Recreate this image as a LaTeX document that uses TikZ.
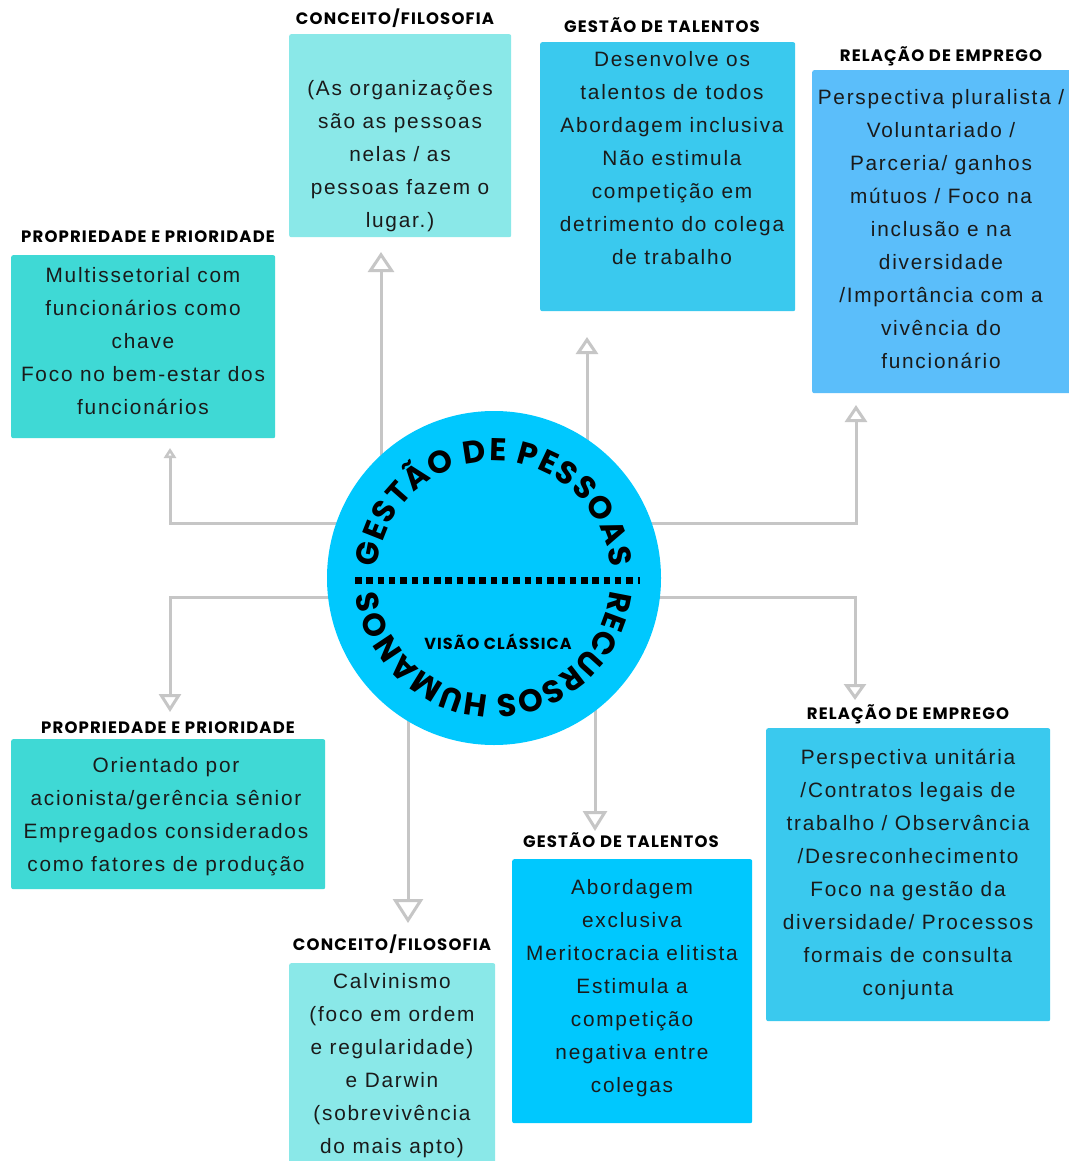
\documentclass[tikz,border=0pt]{standalone}
\usepackage{fontspec}
\setmainfont{Liberation Sans}
\newfontfamily\bodyfont{Liberation Sans}[LetterSpace=8.5]
\newfontfamily\headfont{Poppins}[LetterSpace=7]
\newfontfamily\circfont{Poppins}
\usetikzlibrary{arrows.meta,decorations.text,backgrounds}
\definecolor{cfil}{HTML}{8AE8E8}
\definecolor{prop}{HTML}{3FD9D5}
\definecolor{gest}{HTML}{3AC9EE}
\definecolor{relt}{HTML}{5BBEFA}
\definecolor{vivid}{HTML}{00C8FE}
\definecolor{arrowc}{HTML}{C6C6C6}
\definecolor{textc}{HTML}{1A1A1A}
\begin{document}
\begin{tikzpicture}[x=1pt,y=1pt,
  box/.style={rectangle, rounded corners=2pt, inner sep=0pt, anchor=north west},
  txt/.style={anchor=north, inner sep=0pt, align=center, text=textc, font=\bodyfont\fontsize{20.8}{33}\selectfont},
  head/.style={anchor=base, inner sep=0pt, text=black, font=\headfont\bfseries\fontsize{16.5}{16.5}\selectfont},
  conn/.style={draw=arrowc, line width=3pt},
  hub/.style={circle, fill=vivid, minimum size=334pt, inner sep=0pt}]
\useasboundingbox (0,0) rectangle (1068,-1161);
% hub
\coordinate (hubc) at (494,-578);
\node[hub] (hub) at (hubc) {};
\draw[line width=7pt, dash pattern=on 6.5pt off 4.8pt] (355,-580) -- (640,-580);
\path[decorate, decoration={text along path, text align={fit to path},
  text={|\circfont\bfseries\fontsize{31.5}{31.5}\selectfont|GESTÃO DE PESSOAS}}]
  (hubc) ++(175:117) arc[start angle=175, end angle=5, radius=117];
\path[decorate, decoration={text along path, text align={fit to path},
  text={|\circfont\bfseries\fontsize{31.5}{31.5}\selectfont|RECURSOS HUMANOS}}]
  (hubc) ++(-6:117) arc[start angle=-6, end angle=-174, radius=117];
\node[head, font=\headfont\bfseries\fontsize{16}{16}\selectfont] (visao) at (498,-649) {VISÃO CLÁSSICA};
% boxes
\node[box, fill=cfil, minimum width=222pt, minimum height=203pt] (b1) at (289,-34) {};
\node[box, fill=gest, minimum width=255pt, minimum height=269pt] (b2) at (540,-42) {};
\node[box, fill=relt, minimum width=260pt, minimum height=323pt] (b3) at (812,-70) {};
\node[box, fill=prop, minimum width=264pt, minimum height=183pt] (b4) at (11,-255) {};
\node[box, fill=prop, minimum width=314pt, minimum height=150pt] (b5) at (11,-739) {};
\node[box, fill=cfil, minimum width=206pt, minimum height=210pt] (b6) at (289,-963) {};
\node[box, fill=vivid, minimum width=240pt, minimum height=264pt] (b7) at (512,-859) {};
\node[box, fill=gest, minimum width=284pt, minimum height=293pt] (b8) at (766,-728) {};
% headings
\node[head] (h1) at (395,-24.5) {CONCEITO/FILOSOFIA};
\node[head] (h2) at (662,-32.5) {GESTÃO DE TALENTOS};
\node[head] (h3) at (941,-61.5) {RELAÇÃO DE EMPREGO};
\node[head] (h4) at (148,-242.5) {PROPRIEDADE E PRIORIDADE};
\node[head] (h5) at (168,-733.5) {PROPRIEDADE E PRIORIDADE};
\node[head] (h6) at (392,-950.5) {CONCEITO/FILOSOFIA};
\node[head] (h7) at (621,-847.5) {GESTÃO DE TALENTOS};
\node[head] (h8) at (908,-719.5) {RELAÇÃO DE EMPREGO};
% texts
\node[txt] (t1) at (400,-72.5) {\strut(As organizações\\são as pessoas\\nelas / as\\pessoas fazem o\\lugar.)};
\node[txt] (t2) at (672,-43.5) {\strut Desenvolve os\\talentos de todos\\Abordagem inclusiva\\Não estimula\\competição em\\detrimento do colega\\de trabalho};
\node[txt] (t3) at (941,-81.5) {\strut Perspectiva pluralista /\\Voluntariado /\\Parceria/ ganhos\\mútuos / Foco na\\inclusão e na\\diversidade\\/Importância com a\\vivência do\\funcionário};
\node[txt] (t4) at (143,-259.5) {\strut Multissetorial com\\funcionários como\\chave\\Foco no bem-estar dos\\funcionários};
\node[txt] (t5) at (166,-749.5) {\strut Orientado por\\acionista/gerência sênior\\Empregados considerados\\como fatores de produção};
\node[txt] (t6) at (392,-965.5) {\strut Calvinismo\\(foco em ordem\\e regularidade)\\e Darwin\\(sobrevivência\\do mais apto)};
\node[txt] (t7) at (632,-871.5) {\strut Abordagem\\exclusiva\\Meritocracia elitista\\Estimula a\\competição\\negativa entre\\colegas};
\node[txt] (t8) at (908,-741.5) {\strut Perspectiva unitária\\/Contratos legais de\\trabalho / Observância\\/Desreconhecimento\\Foco na gestão da\\diversidade/ Processos\\formais de consulta\\conjunta};
% arrow tips
\coordinate (tipA) at (170,-448);
\coordinate (tipB) at (381,-252);
\coordinate (tipC) at (587,-337);
\coordinate (tipD) at (856,-405);
\coordinate (tipE) at (170,-712);
\coordinate (tipF) at (408,-923);
\coordinate (tipG) at (595,-831);
\coordinate (tipH) at (855,-700);
\begin{pgfonlayer}{background}
\fill[white] (0,0) rectangle (1068,-1161);
\draw[conn, -{Triangle[open, width=12pt, length=10pt]}] ([yshift=55pt]hubc) -| (tipA);
\draw[conn, -{Triangle[open, width=26pt, length=20pt]}] ([xshift=-113pt]hubc) -- (tipB);
\draw[conn, -{Triangle[open, width=22pt, length=17pt]}] ([xshift=93pt]hubc) -- (tipC);
\draw[conn, -{Triangle[open, width=22pt, length=17pt]}] ([yshift=55pt]hubc) -| (tipD);
\draw[conn, -{Triangle[open, width=22pt, length=18pt]}] ([yshift=-19pt]hubc) -| (tipE);
\draw[conn, -{Triangle[open, width=30pt, length=24pt]}] ([xshift=-86pt]hubc) -- (tipF);
\draw[conn, -{Triangle[open, width=24pt, length=20pt]}] ([xshift=101pt]hubc) -- (tipG);
\draw[conn, -{Triangle[open, width=22pt, length=16pt]}] ([yshift=-19pt]hubc) -| (tipH);
\end{pgfonlayer}
\end{tikzpicture}
\end{document}
